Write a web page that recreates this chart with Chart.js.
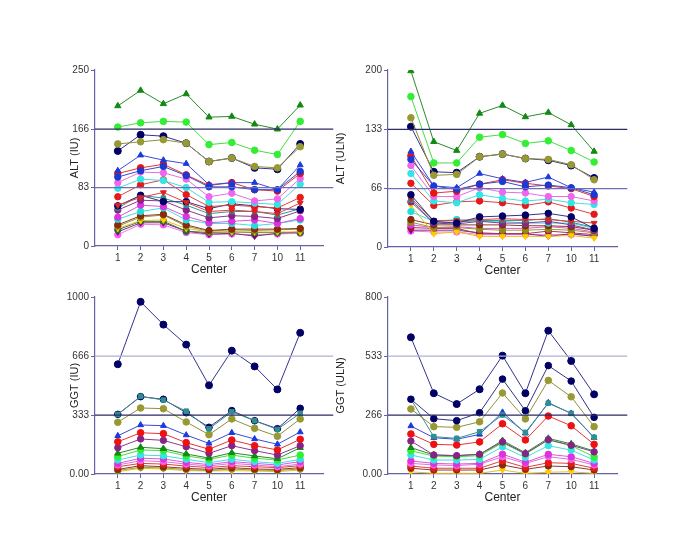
<!DOCTYPE html>
<html>
<head>
<meta charset="utf-8">
<script src="https://cdn.jsdelivr.net/npm/chart.js@4"></script>
<style>
  html, body { margin: 0; padding: 0; background: #ffffff; }
  #wrap { position: relative; width: 685px; height: 556px; overflow: hidden; }
  canvas { position: absolute; }
</style>
</head>
<body>
<div id="wrap">
  <canvas id="c1" width="345" height="280" style="left:0px;top:0px"></canvas>
  <canvas id="c2" width="345" height="280" style="left:330px;top:0px"></canvas>
  <canvas id="c3" width="345" height="276" style="left:0px;top:280px"></canvas>
  <canvas id="c4" width="345" height="276" style="left:330px;top:280px"></canvas>
</div>
<script>
// ---------- categories and tick labels ----------
const centers = ['1', '2', '3', '4', '5', '6', '7', '10', '11'];

const altIuTicks = [0, 83, 166, 250];
const altIuTickLabels = ['0', '83', '166', '250'];
const altUlnTicks = [0, 66, 133, 200];
const altUlnTickLabels = ['0', '66', '133', '200'];
const ggtIuTicks = [0, 333, 666, 1000];
const ggtIuTickLabels = ['0.00', '333', '666', '1000'];
const ggtUlnTicks = [0, 266, 533, 800];
const ggtUlnTickLabels = ['0.00', '266', '533', '800'];

// reference lines (value levels)
const altIuRefs = [166, 83];
const altUlnRefs = [133, 66];
const ggtIuRefs = [666, 333];
const ggtUlnRefs = [533, 266];

// ---------- ALT (IU) ----------
const altIu_dkGreenTri = [199, 221, 202, 216, 183, 184, 173, 166, 200];
const altIu_ltGreen    = [169, 175, 177, 176, 144, 147, 136, 130, 177];
const altIu_olive      = [145, 148, 151, 146, 120, 125, 113, 111, 141];
const altIu_navy       = [135, 158, 156, 146, 120, 125, 111, 109, 145];
const altIu_blueTri    = [107, 129, 122, 117, 87, 90, 90, 80, 115];
const altIu_blue       = [98, 107, 113, 100, 84, 84, 80, 80, 106];
const altIu_red        = [103, 111, 116, 101, 86, 90, 80, 78, 103];
const altIu_pink       = [90, 105, 104, 95, 70, 75, 64, 67, 96];
const altIu_cyan       = [82, 95, 93, 83, 62, 63, 61, 59, 88];
const altIu_red2       = [70, 87, 94, 73, 56, 58, 56, 54, 69];
const altIu_redDown    = [58, 69, 76, 62, 49, 51, 49, 46, 61];
const altIu_navy2      = [57, 72, 63, 63, 53, 60, 57, 53, 52];
const altIu_teal       = [54, 72, 68, 58, 46, 49, 49, 44, 53];
const altIu_purple     = [51, 65, 64, 51, 40, 43, 42, 39, 50];
const altIu_magenta    = [41, 58, 56, 42, 33, 35, 37, 32, 39];
const altIu_cyan2      = [38, 49, 54, 37, 32, 32, 29, 32, 37];
const altIu_brown      = [30, 43, 45, 30, 22, 24, 24, 24, 25];
const altIu_olive2     = [28, 41, 44, 28, 21, 23, 22, 23, 24];
const altIu_yellow     = [25, 36, 37, 25, 20, 20, 20, 20, 20];
const altIu_dkGreen2   = [23, 35, 35, 21, 19, 20, 19, 19, 19];
const altIu_purpleDown = [20, 33, 33, 21, 17, 18, 14, 18, 20];
const altIu_pink2      = [16, 31, 30, 19, 16, 17, 16, 17, 18];

// ---------- ALT (ULN) ----------
const altUln_dkGreenTri = [199, 119, 109, 151, 160, 147, 152, 138, 108];
const altUln_ltGreen    = [170, 95, 95, 124, 127, 117, 120, 109, 96];
const altUln_olive      = [146, 81, 82, 102, 105, 100, 99, 93, 76];
const altUln_navy       = [136, 85, 84, 102, 105, 100, 98, 92, 78];
const altUln_blueTri    = [108, 69, 67, 83, 77, 73, 79, 67, 62];
const altUln_blue       = [99, 69, 65, 71, 74, 68, 70, 67, 59];
const altUln_red        = [103, 61, 63, 71, 76, 72, 69, 66, 57];
const altUln_pink       = [92, 57, 57, 67, 62, 61, 57, 57, 52];
const altUln_cyan       = [83, 52, 50, 59, 55, 52, 54, 50, 48];
const altUln_red2       = [72, 47, 51, 52, 50, 47, 51, 44, 37];
const altUln_navy2      = [59, 29, 27, 34, 35, 36, 38, 34, 21];
const altUln_redDown    = [55, 30, 30, 31, 32, 31, 31, 29, 27];
const altUln_teal       = [53, 28, 28, 30, 30, 30, 32, 28, 22];
const altUln_purple     = [51, 27, 26, 29, 27, 27, 29, 25, 19];
const altUln_cyan2      = [40, 29, 31, 29, 29, 27, 27, 27, 21];
const altUln_yellow     = [47, 15, 17, 12, 12, 12, 12, 13, 10];
const altUln_brown      = [31, 25, 25, 25, 25, 24, 24, 23, 19];
const altUln_olive2     = [28, 22, 22, 20, 19, 19, 20, 19, 16];
const altUln_magenta    = [25, 22, 23, 21, 21, 21, 23, 21, 17];
const altUln_maroon     = [22, 21, 21, 15, 15, 15, 18, 16, 14];
const altUln_purpleDown = [19, 19, 19, 16, 15, 15, 12, 15, 12];
const altUln_pink2      = [18, 17, 17, 14, 14, 14, 14, 14, 13];

// ---------- GGT (IU) ----------
const ggtIu_navy       = [620, 973, 844, 731, 501, 697, 608, 478, 798];
const ggtIu_navy2      = [337, 437, 422, 346, 264, 358, 301, 256, 371];
const ggtIu_teal       = [337, 439, 418, 355, 255, 352, 301, 252, 343];
const ggtIu_olive      = [292, 373, 369, 294, 222, 311, 258, 213, 311];
const ggtIu_blueTri    = [216, 277, 273, 220, 173, 233, 198, 168, 237];
const ggtIu_red        = [182, 233, 228, 177, 140, 192, 160, 136, 196];
const ggtIu_purple     = [149, 198, 190, 154, 117, 160, 132, 107, 160];
const ggtIu_dkGreenTri = [117, 151, 143, 113, 90, 120, 102, 86, 149];
const ggtIu_ltGreen    = [98, 136, 132, 102, 83, 107, 89, 79, 107];
const ggtIu_cyan       = [79, 107, 103, 83, 64, 83, 70, 60, 83];
const ggtIu_magenta    = [60, 89, 85, 66, 53, 70, 60, 51, 70];
const ggtIu_pink       = [51, 75, 70, 56, 45, 60, 51, 41, 56];
const ggtIu_red2       = [41, 60, 56, 45, 36, 47, 41, 36, 47];
const ggtIu_brown      = [26, 47, 41, 32, 26, 36, 28, 26, 36];
const ggtIu_olive2     = [20, 38, 34, 25, 20, 28, 22, 20, 28];
const ggtIu_yellow     = [13, 32, 28, 19, 17, 19, 17, 13, 23];

// ---------- GGT (ULN) ----------
const ggtUln_navy       = [618, 365, 316, 383, 535, 365, 648, 511, 360];
const ggtUln_navy2      = [338, 250, 241, 277, 429, 286, 490, 420, 256];
const ggtUln_olive      = [294, 214, 211, 236, 366, 249, 423, 349, 214];
const ggtUln_teal       = [338, 169, 161, 191, 267, 188, 320, 274, 166];
const ggtUln_blueTri    = [217, 164, 157, 179, 279, 184, 322, 274, 164];
const ggtUln_red        = [181, 134, 131, 145, 227, 154, 262, 218, 134];
const ggtUln_purple     = [149, 86, 83, 89, 145, 92, 155, 130, 100];
const ggtUln_dkGreenTri = [119, 86, 83, 89, 151, 96, 161, 136, 104];
const ggtUln_ltGreen    = [105, 81, 78, 83, 141, 90, 154, 128, 78];
const ggtUln_cyan       = [86, 63, 63, 66, 123, 75, 128, 108, 63];
const ggtUln_magenta    = [59, 48, 45, 48, 90, 53, 89, 78, 48];
const ggtUln_pink       = [48, 41, 38, 44, 78, 48, 78, 66, 41];
const ggtUln_red2       = [36, 26, 26, 26, 60, 30, 51, 48, 26];
const ggtUln_brown      = [26, 18, 18, 18, 41, 21, 36, 33, 18];
const ggtUln_yellow     = [10, 3, 3, 3, 18, 3, 8, 10, 3];

// ---------- styles (not data) ----------
const STY = {
  dkGreenTri: { c: '#118a11', l: '#2a8a2a', s: 'triangle', r: 3.6 },
  ltGreen:    { c: '#33ee33', l: '#44dd44', s: 'circle', r: 3.3 },
  olive:      { c: '#999933', l: '#8f8f3a', s: 'circle', r: 3.3 },
  navy:       { c: '#000066', l: '#33338f', s: 'circle', r: 3.5 },
  navy2:      { c: '#000066', l: '#333388', s: 'circle', r: 3.3 },
  blueTri:    { c: '#1a3ae0', l: '#3a4ad8', s: 'triangle', r: 3.4 },
  blue:       { c: '#1a3ad0', l: '#3a4ac8', s: 'circle', r: 3.2 },
  red:        { c: '#ee1111', l: '#e63333', s: 'circle', r: 3.3 },
  pink:       { c: '#ee66ee', l: '#e070e0', s: 'circle', r: 3.2 },
  cyan:       { c: '#33e6e6', l: '#44dddd', s: 'circle', r: 3.2 },
  red2:       { c: '#e61a1a', l: '#e04040', s: 'circle', r: 3.2 },
  redDown:    { c: '#dd2222', l: '#dd4444', s: 'triangle', r: 3.4, rot: 180 },
  teal:       { c: '#2f8f8f', l: '#3f8f8f', s: 'rect', r: 3.2 },
  purple:     { c: '#882288', l: '#8a3a8a', s: 'circle', r: 3.2 },
  magenta:    { c: '#dd33dd', l: '#dd55dd', s: 'circle', r: 3.2 },
  cyan2:      { c: '#22dddd', l: '#44dddd', s: 'circle', r: 3.2 },
  brown:      { c: '#8b2a0a', l: '#8b3a2a', s: 'circle', r: 3.2 },
  olive2:     { c: '#8c8c1a', l: '#9a9a3a', s: 'circle', r: 3.2 },
  yellow:     { c: '#ffcc00', l: '#e6c020', s: 'triangle', r: 3.4, rot: 180 },
  dkGreen2:   { c: '#336633', l: '#446644', s: 'circle', r: 3.2 },
  purpleDown: { c: '#661166', l: '#773377', s: 'triangle', r: 3.4, rot: 180 },
  pink2:      { c: '#ff55ff', l: '#ee77ee', s: 'circle', r: 3.2 },
  maroon:     { c: '#aa1144', l: '#aa3355', s: 'circle', r: 3.2 }
};

const AXIS = '#6262a6';
const FONT = 'Liberation Sans, Arial, sans-serif';

function buildSeries(list) {
  return list.map(([key, vals]) => {
    const st = STY[key];
    return {
      type: 'line',
      data: vals.map((v, i) => ({ x: i + 1, y: v })),
      borderColor: st.l,
      borderWidth: 1,
      backgroundColor: st.c,
      pointBackgroundColor: st.c,
      pointBorderColor: st.c,
      pointBorderWidth: 1,
      pointStyle: st.s,
      pointRadius: st.r,
      pointRotation: st.rot || 0,
      tension: 0,
      fill: false
    };
  });
}

function refLine(v, color, w) {
  return {
    type: 'line',
    data: [{ x: 0, y: v }, { x: 10.45, y: v }],
    borderColor: color,
    borderWidth: w,
    pointRadius: 0,
    clip: false,
    fill: false
  };
}

function makePanel(id, p) {
  const datasets = [
    refLine(p.refs[0], p.refColors[0], 1.3),
    refLine(p.refs[1], p.refColors[1], 1.3)
  ].concat(buildSeries(p.series));
  new Chart(document.getElementById(id), {
    type: 'line',
    data: { datasets },
    options: {
      responsive: false,
      animation: false,
      devicePixelRatio: 1,
      layout: { padding: p.pad },
      plugins: { legend: { display: false }, tooltip: { enabled: false } },
      scales: {
        x: {
          type: 'linear', min: 0, max: 10,
          afterFit: s => { s.height = 31; },
          ticks: {
            stepSize: 1, autoSkip: false, maxRotation: 0, padding: 2,
            color: '#333', font: { family: FONT, size: 10 },
            callback: v => (v >= 1 && v <= 9) ? centers[v - 1] : ''
          },
          grid: {
            drawOnChartArea: false, drawTicks: true, tickLength: 4,
            color: c => (c.tick && (c.tick.value === 0 || c.tick.value === 10)) ? 'rgba(0,0,0,0)' : AXIS
          },
          border: { color: AXIS, width: 1.2 },
          title: {
            display: true, text: 'Center', color: '#222',
            font: { family: FONT, size: 12 }, padding: 0
          }
        },
        y: {
          type: 'linear', min: p.ticks[0], max: p.ticks[3],
          afterFit: s => { s.width = p.yw; },
          afterBuildTicks: s => { s.ticks = p.ticks.map(v => ({ value: v })); },
          ticks: {
            padding: 2, color: '#333', font: { family: FONT, size: 10 },
            callback: v => { const i = p.ticks.indexOf(v); return i >= 0 ? p.tickLabels[i] : ''; }
          },
          grid: { drawOnChartArea: false, drawTicks: true, tickLength: 4, color: AXIS },
          border: { color: AXIS, width: 1.2 },
          title: {
            display: true, text: p.title, color: '#222',
            font: { family: FONT, size: 11 }, padding: { top: p.tpad, bottom: 0 }
          }
        }
      }
    }
  });
}

// panel 1: ALT (IU)
makePanel('c1', {
  title: 'ALT (IU)', ticks: altIuTicks, tickLabels: altIuTickLabels,
  refs: altIuRefs, refColors: ['#2a2a66', '#6f6fb8'],
  yw: 38, tpad: 11, pad: { left: 57, right: 22, top: 70, bottom: 3 },
  series: [
    ['dkGreenTri', altIu_dkGreenTri], ['ltGreen', altIu_ltGreen], ['olive', altIu_olive],
    ['navy', altIu_navy], ['blueTri', altIu_blueTri], ['blue', altIu_blue], ['red', altIu_red],
    ['pink', altIu_pink], ['cyan', altIu_cyan], ['red2', altIu_red2], ['redDown', altIu_redDown],
    ['navy2', altIu_navy2], ['teal', altIu_teal], ['purple', altIu_purple], ['magenta', altIu_magenta],
    ['cyan2', altIu_cyan2], ['brown', altIu_brown], ['olive2', altIu_olive2], ['yellow', altIu_yellow],
    ['dkGreen2', altIu_dkGreen2], ['purpleDown', altIu_purpleDown], ['pink2', altIu_pink2]
  ]
});

// panel 2: ALT (ULN)
makePanel('c2', {
  title: 'ALT (ULN)', ticks: altUlnTicks, tickLabels: altUlnTickLabels,
  refs: altUlnRefs, refColors: ['#2a2a66', '#6f6fb8'],
  yw: 54, tpad: 0, pad: { left: 4, right: 58, top: 70, bottom: 2 },
  series: [
    ['dkGreenTri', altUln_dkGreenTri], ['ltGreen', altUln_ltGreen], ['olive', altUln_olive],
    ['navy', altUln_navy], ['blueTri', altUln_blueTri], ['blue', altUln_blue], ['red', altUln_red],
    ['pink', altUln_pink], ['cyan', altUln_cyan], ['red2', altUln_red2], ['navy2', altUln_navy2],
    ['redDown', altUln_redDown], ['teal', altUln_teal], ['purple', altUln_purple], ['cyan2', altUln_cyan2],
    ['yellow', altUln_yellow], ['brown', altUln_brown], ['olive2', altUln_olive2], ['magenta', altUln_magenta],
    ['maroon', altUln_maroon], ['purpleDown', altUln_purpleDown], ['pink2', altUln_pink2]
  ]
});

// panel 3: GGT (IU)
makePanel('c3', {
  title: 'GGT (IU)', ticks: ggtIuTicks, tickLabels: ggtIuTickLabels,
  refs: ggtIuRefs, refColors: ['#b0b0d4', '#2a2a66'],
  yw: 38, tpad: 11, pad: { left: 57, right: 22, top: 17, bottom: 51 },
  series: [
    ['navy', ggtIu_navy], ['teal', ggtIu_teal], ['navy2', ggtIu_navy2], ['olive', ggtIu_olive],
    ['blueTri', ggtIu_blueTri], ['red', ggtIu_red], ['purple', ggtIu_purple],
    ['dkGreenTri', ggtIu_dkGreenTri], ['ltGreen', ggtIu_ltGreen], ['cyan', ggtIu_cyan],
    ['magenta', ggtIu_magenta], ['pink', ggtIu_pink], ['red2', ggtIu_red2], ['brown', ggtIu_brown],
    ['olive2', ggtIu_olive2], ['yellow', ggtIu_yellow]
  ]
});

// panel 4: GGT (ULN)
makePanel('c4', {
  title: 'GGT (ULN)', ticks: ggtUlnTicks, tickLabels: ggtUlnTickLabels,
  refs: ggtUlnRefs, refColors: ['#b0b0d4', '#2a2a66'],
  yw: 54, tpad: 0, pad: { left: 4, right: 58, top: 17, bottom: 51 },
  series: [
    ['navy', ggtUln_navy], ['navy2', ggtUln_navy2], ['olive', ggtUln_olive], ['teal', ggtUln_teal],
    ['blueTri', ggtUln_blueTri], ['red', ggtUln_red], ['purple', ggtUln_purple],
    ['dkGreenTri', ggtUln_dkGreenTri], ['ltGreen', ggtUln_ltGreen], ['cyan', ggtUln_cyan],
    ['magenta', ggtUln_magenta], ['pink', ggtUln_pink], ['red2', ggtUln_red2], ['brown', ggtUln_brown],
    ['yellow', ggtUln_yellow]
  ]
});
</script>
</body>
</html>
